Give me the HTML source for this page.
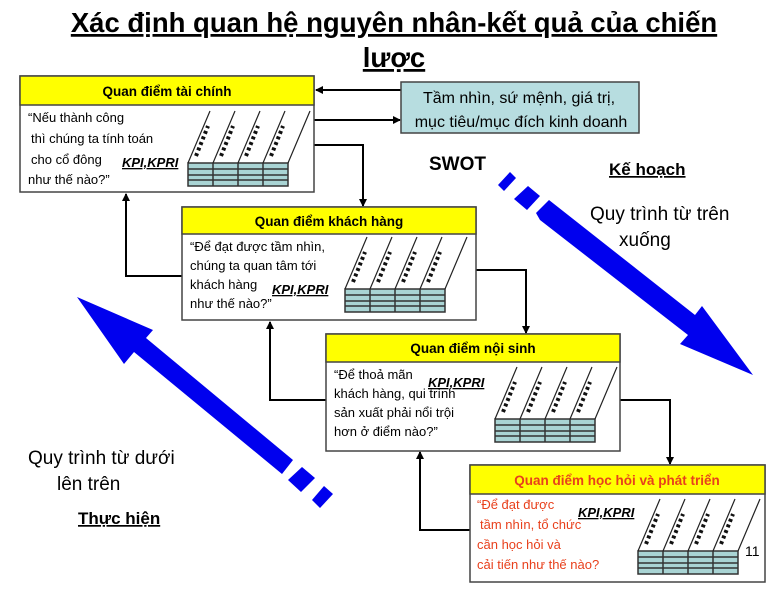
<!DOCTYPE html>
<html><head><meta charset="utf-8"><style>
body{margin:0;background:#fff;width:782px;height:593px;overflow:hidden}
svg{display:block;font-family:"Liberation Sans",Arial,sans-serif}
</style></head><body>
<svg width="782" height="593" viewBox="0 0 782 593">
<defs>
<marker id="ah" markerWidth="8" markerHeight="8" refX="7" refY="4" orient="auto" markerUnits="userSpaceOnUse"><path d="M0,0L8,4L0,8z" fill="#000"/></marker>
<g id="w">
<rect x="0" y="55" width="100" height="23" fill="#a9d4d4" stroke="#333" stroke-width="1.5"/>
<path d="M0,61H100M0,67H100M0,72H100M25,55V78M50,55V78M75,55V78" stroke="#333" stroke-width="1.5"/>
<path d="M0,55L22,3M25,55L47,3M50,55L72,3M75,55L97,3M100,55L122,3" stroke="#222" stroke-width="1.2" fill="none"/>
<path d="M8,48L20,18M33,48L45,18M58,48L70,18M83,48L95,18" stroke="#111" stroke-width="4" stroke-dasharray="3 3" fill="none"/>
</g>
</defs>
<text x="394" y="32" text-anchor="middle" font-size="27.5" font-weight="bold" text-decoration="underline">Xác định quan hệ nguyên nhân-kết quả của chiến</text>
<text x="394" y="67" text-anchor="middle" font-size="27.5" font-weight="bold" text-decoration="underline">lược</text>

<!-- blue arrows -->
<g fill="#0000ee">
<polygon points="498,185 510,172 516,178 504,191"/>
<polygon points="514,199 528,186 540,196 527,210"/>
<polygon points="536,213 549,200 695,315 702,306 753,375 680,344 688,335 540,220"/>
<polygon points="77,297 153,330 146,338 293,460 282,474 134,352 124,364"/>
<polygon points="288,480 302,467 315,478 301,492"/>
<polygon points="312,500 324,486 333,494 320,508"/>
</g>

<!-- connectors -->
<g stroke="#000" stroke-width="2" fill="none">
<line x1="401" y1="90" x2="316" y2="90" marker-end="url(#ah)"/>
<line x1="314" y1="120" x2="400" y2="120" marker-end="url(#ah)"/>
<polyline points="314,145 363,145 363,206" marker-end="url(#ah)"/>
<polyline points="476,270 526,270 526,333" marker-end="url(#ah)"/>
<polyline points="620,400 670,400 670,464" marker-end="url(#ah)"/>
<polyline points="182,276 126,276 126,194" marker-end="url(#ah)"/>
<polyline points="326,400 270,400 270,322" marker-end="url(#ah)"/>
<polyline points="470,530 420,530 420,452" marker-end="url(#ah)"/>
</g>

<!-- TR box -->
<rect x="401" y="82" width="238" height="51" fill="#b7dde0" stroke="#444" stroke-width="1.5"/>
<text x="519" y="103" text-anchor="middle" font-size="16">Tầm nhìn, sứ mệnh, giá trị,</text>
<text x="521" y="127" text-anchor="middle" font-size="16">mục tiêu/mục đích kinh doanh</text>

<!-- Box1 -->
<rect x="20" y="76" width="294" height="116" fill="#fff" stroke="#444" stroke-width="1.5"/>
<rect x="20" y="76" width="294" height="29" fill="#ffff00" stroke="#444" stroke-width="1.5"/>
<text x="167" y="96" text-anchor="middle" font-size="13.5" font-weight="bold">Quan điểm tài chính</text>
<g font-size="13"><text x="28" y="122">“Nếu thành công</text><text x="31" y="143">thì chúng ta tính toán</text><text x="31" y="164">cho cổ đông</text><text x="28" y="184">như thế nào?”</text></g>
<text x="122" y="167" font-size="13" font-weight="bold" font-style="italic" text-decoration="underline">KPI,KPRI</text>
<use href="#w" x="188" y="108"/>

<!-- Box2 -->
<rect x="182" y="207" width="294" height="113" fill="#fff" stroke="#444" stroke-width="1.5"/>
<rect x="182" y="207" width="294" height="27" fill="#ffff00" stroke="#444" stroke-width="1.5"/>
<text x="329" y="226" text-anchor="middle" font-size="13.5" font-weight="bold">Quan điểm khách hàng</text>
<g font-size="13"><text x="190" y="251">“Để đạt được tầm nhìn,</text><text x="190" y="270">chúng ta quan tâm tới</text><text x="190" y="289">khách hàng</text><text x="190" y="308">như thế nào?”</text></g>
<text x="272" y="294" font-size="13" font-weight="bold" font-style="italic" text-decoration="underline">KPI,KPRI</text>
<use href="#w" x="345" y="234"/>

<!-- Box3 -->
<rect x="326" y="334" width="294" height="117" fill="#fff" stroke="#444" stroke-width="1.5"/>
<rect x="326" y="334" width="294" height="28" fill="#ffff00" stroke="#444" stroke-width="1.5"/>
<text x="473" y="353" text-anchor="middle" font-size="13.5" font-weight="bold">Quan điểm nội sinh</text>
<g font-size="13"><text x="334" y="379">“Để thoả mãn</text><text x="334" y="398">khách hàng, qui trình</text><text x="334" y="417">sản xuất phải nổi trội</text><text x="334" y="436">hơn ở điểm nào?”</text></g>
<text x="428" y="387" font-size="13" font-weight="bold" font-style="italic" text-decoration="underline">KPI,KPRI</text>
<use href="#w" x="495" y="364"/>

<!-- Box4 -->
<rect x="470" y="465" width="295" height="117" fill="#fff" stroke="#444" stroke-width="1.5"/>
<rect x="470" y="465" width="295" height="29" fill="#ffff00" stroke="#444" stroke-width="1.5"/>
<text x="617" y="485" text-anchor="middle" font-size="13.5" font-weight="bold" fill="#e8401c">Quan điểm học hỏi và phát triển</text>
<g font-size="13" fill="#e8401c"><text x="477" y="509">“Để đạt được</text><text x="480" y="529">tầm nhìn, tổ chức</text><text x="477" y="549">cần học hỏi và</text><text x="477" y="569">cải tiến như thế nào?</text></g>
<text x="578" y="517" font-size="13" font-weight="bold" font-style="italic" text-decoration="underline">KPI,KPRI</text>
<use href="#w" x="638" y="496"/>
<text x="745" y="556" font-size="14">11</text>

<!-- labels -->
<text x="429" y="170" font-size="19" font-weight="bold">SWOT</text>
<text x="609" y="175" font-size="17" font-weight="bold" text-decoration="underline">Kế hoạch</text>
<text x="590" y="220" font-size="19">Quy trình từ trên</text>
<text x="619" y="246" font-size="19">xuống</text>
<text x="28" y="464" font-size="19">Quy trình từ dưới</text>
<text x="57" y="490" font-size="19">lên trên</text>
<text x="78" y="524" font-size="17" font-weight="bold" text-decoration="underline">Thực hiện</text>
</svg>
</body></html>
